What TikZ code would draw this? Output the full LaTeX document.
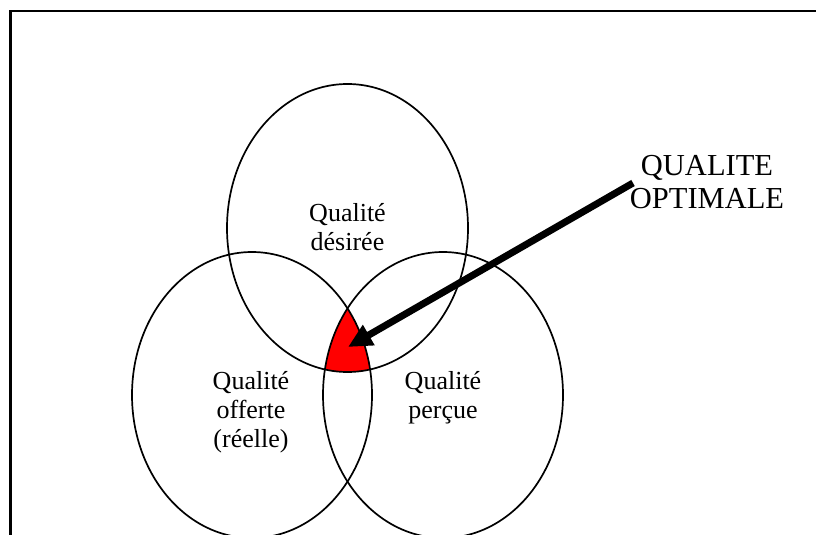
\documentclass[tikz,border=0pt]{standalone}
\usepackage{fontspec}
\setmainfont{Liberation Serif}
\usetikzlibrary{arrows.meta}
\begin{document}
\begin{tikzpicture}[x=1pt,y=-1pt,
  ring/.style={line width=1.7pt},
  frame/.style={line width=2.4pt},
  lbl/.style={inner sep=0pt, anchor=base, font=\fontsize{26}{30}\selectfont},
  big/.style={inner sep=0pt, anchor=base, font=\fontsize{30.5}{33}\selectfont},
  pointer/.style={line width=7pt, -{Triangle[length=24pt,width=22pt]}}]
\useasboundingbox (0,0) rectangle (816,535);
\clip (0,0) rectangle (816,535);
\draw[frame] (10.3,11.3) rectangle (850,580);
\coordinate (cD) at (347.5,228);
\coordinate (cO) at (252,395);
\coordinate (cP) at (443,395);
\begin{scope}
  \clip (cD) ellipse [x radius=120.5pt, y radius=144pt];
  \clip (cO) ellipse [x radius=120pt, y radius=143pt];
  \fill[red] (cP) ellipse [x radius=120pt, y radius=143pt];
\end{scope}
\draw[ring] (cD) ellipse [x radius=120.5pt, y radius=144pt];
\draw[ring] (cO) ellipse [x radius=120pt, y radius=143pt];
\draw[ring] (cP) ellipse [x radius=120pt, y radius=143pt];
\node[lbl] (d1) at (347.5,221) {Qualité};
\node[lbl] (d2) at (347.5,250) {désirée};
\node[lbl] (o1) at (251,389) {Qualité};
\node[lbl] (o2) at (251,418) {offerte};
\node[lbl] (o3) at (251,447) {(réelle)};
\node[lbl] (p1) at (443,389) {Qualité};
\node[lbl] (p2) at (443,418) {perçue};
\node[big] (q1) at (707,175) {QUALITE};
\node[big] (q2) at (707,208) {OPTIMALE};
\coordinate (from) at (633,183);
\coordinate (tip) at (348,347);
\draw[pointer] (from) -- (tip);
\end{tikzpicture}
\end{document}
